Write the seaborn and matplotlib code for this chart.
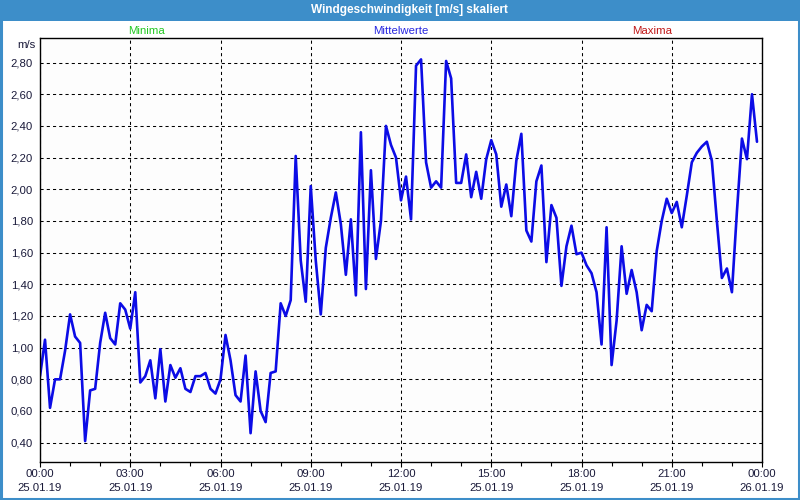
import numpy as np
import pandas as pd
import matplotlib
matplotlib.use("Agg")
import matplotlib.pyplot as plt
from matplotlib.patches import Rectangle
from matplotlib.ticker import MultipleLocator
import seaborn as sns

# ---- data (10-minute means, 25.01.19 00:00 .. 23:50) ----
wind_ms = [
    0.82, 1.05, 0.62, 0.80, 0.80, 0.98, 1.21, 1.07, 1.03, 0.41,
    0.73, 0.74, 1.03, 1.22, 1.06, 1.02, 1.28, 1.24, 1.12, 1.35,
    0.78, 0.82, 0.92, 0.68, 0.99, 0.66, 0.89, 0.81, 0.87, 0.74,
    0.72, 0.82, 0.82, 0.84, 0.74, 0.71, 0.80, 1.08, 0.92, 0.70,
    0.66, 0.95, 0.46, 0.85, 0.60, 0.53, 0.84, 0.85, 1.28, 1.20,
    1.30, 2.21, 1.55, 1.29, 2.02, 1.55, 1.21, 1.63, 1.82, 1.98,
    1.78, 1.46, 1.81, 1.33, 2.36, 1.37, 2.12, 1.56, 1.80, 2.40,
    2.28, 2.20, 1.93, 2.08, 1.81, 2.78, 2.82, 2.17, 2.01, 2.05,
    2.01, 2.81, 2.70, 2.04, 2.04, 2.22, 1.95, 2.11, 1.94, 2.19,
    2.31, 2.22, 1.89, 2.03, 1.83, 2.18, 2.35, 1.74, 1.67, 2.05,
    2.15, 1.54, 1.90, 1.82, 1.39, 1.64, 1.77, 1.59, 1.60, 1.52,
    1.47, 1.35, 1.02, 1.76, 0.89, 1.17, 1.64, 1.34, 1.49, 1.35,
    1.11, 1.27, 1.23, 1.61, 1.80, 1.94, 1.85, 1.92, 1.76, 1.96,
    2.17, 2.23, 2.27, 2.30, 2.18, 1.80, 1.44, 1.50, 1.35, 1.86,
    2.32, 2.19, 2.60, 2.30,
]
step_minutes = 10
hours = [i * step_minutes / 60 for i in range(len(wind_ms))]

x_tick_hours = [0, 3, 6, 9, 12, 15, 18, 21, 24]
x_tick_labels = ["00:00\n25.01.19", "03:00\n25.01.19", "06:00\n25.01.19",
                 "09:00\n25.01.19", "12:00\n25.01.19", "15:00\n25.01.19",
                 "18:00\n25.01.19", "21:00\n25.01.19", "00:00\n26.01.19"]
y_ticks = [0.40, 0.60, 0.80, 1.00, 1.20, 1.40, 1.60, 1.80, 2.00, 2.20, 2.40, 2.60, 2.80]
y_tick_labels = [f"{v:.2f}".replace(".", ",") for v in y_ticks]

title = "Windgeschwindigkeit [m/s] skaliert"
legend_names = ["Minima", "Mittelwerte", "Maxima"]
legend_colors = ["#22c822", "#2626e0", "#c01818"]
unit_label = "m/s"

df = pd.DataFrame({"hour": hours, "wind": wind_ms})

# ---- style ----
sns.set_style("white")
plt.rcParams["font.family"] = ["Liberation Sans", "DejaVu Sans"]
plt.rcParams["font.size"] = 8.2

fig = plt.figure(figsize=(8, 5), dpi=100, facecolor="white")
ax = fig.add_axes([40 / 800, 1 - 462 / 500, 722 / 800, 424 / 500])
ax.set_facecolor("#fdfdfd")

sns.lineplot(data=df, x="hour", y="wind", ax=ax, color="#0c0ce6",
             linewidth=1.9, legend=False)

ax.set_xlim(0, 24)
ax.set_ylim(0.278, 2.955)
ax.set_xticks(x_tick_hours)
ax.set_xticklabels(x_tick_labels, color="#1a1a3a", linespacing=1.45)
ax.xaxis.set_minor_locator(MultipleLocator(1))
ax.set_yticks(y_ticks)
ax.set_yticklabels(y_tick_labels, color="#1a1a3a")
ax.set_xlabel("")
ax.set_ylabel("")

ax.tick_params(axis="x", which="major", direction="out", length=3.5, width=0.8,
               color="black", pad=1.5, bottom=True)
ax.tick_params(axis="x", which="minor", direction="out", length=3, width=0.8,
               color="black", bottom=True)
ax.tick_params(axis="y", length=0, pad=5)

ax.grid(True, which="major", axis="both", color="black",
        linestyle=(0, (3, 3)), linewidth=0.75)
for s in ax.spines.values():
    s.set_visible(True)
    s.set_color("black")
    s.set_linewidth(1.0)

# unit label
ax.text(-0.006, 1.0 - 7 / 424, unit_label, transform=ax.transAxes,
        ha="right", va="center", color="#1a1a3a", fontsize=8.2)

# legend-like labels above plot
for name, col, xf in zip(legend_names, legend_colors, [0.147, 0.5, 0.848]):
    ax.text(xf, 1.0 + 7 / 424, name, transform=ax.transAxes, ha="center",
            va="center", color=col, fontsize=8.2)

# title bar and border
fig.patches.append(Rectangle((0, 1 - 21 / 500), 1, 21 / 500,
                             transform=fig.transFigure, facecolor="#3d8ec9",
                             edgecolor="none", zorder=0))
fig.text(0.512, 1 - 10.5 / 500, title, ha="center", va="center",
         color="white", fontsize=8.5, fontweight="bold")
fig.patches.append(Rectangle((0.001, 0.002), 0.998, 0.996,
                             transform=fig.transFigure, fill=False,
                             edgecolor="#3d8ec9", linewidth=2.2, zorder=5))

fig.savefig("out.png", dpi=100, facecolor="white")
